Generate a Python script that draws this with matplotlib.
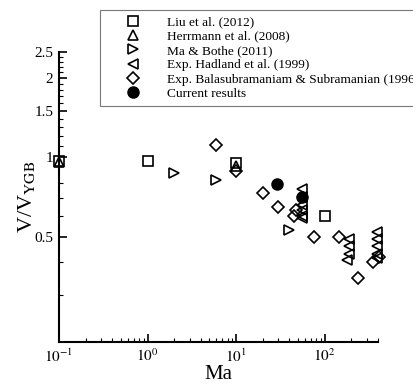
import matplotlib
matplotlib.use("Agg")
import matplotlib.pyplot as plt
from matplotlib.ticker import FixedLocator, NullFormatter, FixedFormatter

plt.rcParams['font.family'] = ['Liberation Serif', 'DejaVu Serif']
plt.rcParams['mathtext.fontset'] = 'stix'

# Data
liu_x = [0.1, 1.0, 10, 100]
liu_y = [0.97, 0.97, 0.95, 0.60]
herr_x = [0.1, 10]
herr_y = [0.96, 0.93]
ma_x = [2, 6, 40]
ma_y = [0.87, 0.82, 0.53]
had_x = [55, 55, 55, 55, 55, 55, 190, 190, 190, 178, 390, 390, 390, 390, 390]
had_y = [0.76, 0.71, 0.66, 0.63, 0.60, 0.59, 0.49, 0.46, 0.43, 0.41, 0.52, 0.49, 0.46, 0.43, 0.415]
bal_x = [6, 10, 20, 30, 45, 48, 75, 147, 240, 350, 407]
bal_y = [1.11, 0.89, 0.73, 0.65, 0.60, 0.63, 0.50, 0.50, 0.35, 0.40, 0.42]
cur_x = [29, 55]
cur_y = [0.79, 0.71]

labels = ["Liu et al. (2012)", "Herrmann et al. (2008)", "Ma & Bothe (2011)",
          "Exp. Hadland et al. (1999)",
          "Exp. Balasubramaniam & Subramanian (1996)", "Current results"]

fig = plt.figure(figsize=(4.14, 3.85), dpi=100)
ax = fig.add_axes([59/414, 1-342/385, (378-59)/414, (342-52)/385])

kw = dict(linestyle='none', mfc='none', mec='black', mew=1.2, color='black', clip_on=False)
ax.plot(liu_x, liu_y, marker='s', ms=6.5, label=labels[0], **kw)
ax.plot(herr_x, herr_y, marker='^', ms=7, label=labels[1], **kw)
ax.plot(ma_x, ma_y, marker='>', ms=7, label=labels[2], **kw)
ax.plot(had_x, had_y, marker='<', ms=7, label=labels[3], **kw)
ax.plot(bal_x, bal_y, marker='D', ms=6.5, label=labels[4], **kw)
ax.plot(cur_x, cur_y, marker='o', ms=8, linestyle='none', color='black', label=labels[5], clip_on=False)

ax.set_xscale('log')
ax.set_yscale('log')
ax.set_xlim(0.1, 400)
ax.set_ylim(0.2, 2.5)

ax.spines['top'].set_visible(False)
ax.spines['right'].set_visible(False)
for s in ('left', 'bottom'):
    ax.spines[s].set_linewidth(1.5)

ax.yaxis.set_major_locator(FixedLocator([0.5, 1, 1.5, 2, 2.5]))
ax.yaxis.set_major_formatter(FixedFormatter(['0.5', '1', '1.5', '2', '2.5']))
ax.yaxis.set_minor_locator(FixedLocator([0.3, 0.4, 0.6, 0.7, 0.8, 1.1, 1.2, 1.3, 1.4,
                                         1.6, 1.7, 1.8, 1.9, 2.1, 2.2, 2.3, 2.4]))
ax.yaxis.set_minor_formatter(NullFormatter())

ax.xaxis.set_major_locator(FixedLocator([0.1, 1, 10, 100]))
ax.xaxis.set_major_formatter(FixedFormatter([r'$10^{-1}$', r'$10^{0}$', r'$10^{1}$', r'$10^{2}$']))
ax.xaxis.set_minor_locator(FixedLocator([m * d for d in (0.1, 1, 10, 100) for m in range(2, 10) if m * d <= 400]))
ax.xaxis.set_minor_formatter(NullFormatter())

ax.tick_params(which='major', direction='in', length=6, width=1.2, labelsize=11, pad=4)
ax.tick_params(which='minor', direction='in', length=3, width=0.8)

ax.set_xlabel('Ma', fontsize=15, labelpad=0)
ax.set_ylabel(r'V/V$_{\mathrm{YGB}}$', fontsize=16, labelpad=-2)

leg = fig.legend(loc='upper left', bbox_to_anchor=(100/414, 1 - 10/385),
                 borderaxespad=0, frameon=True, fancybox=False, fontsize=9.6,
                 labelspacing=0.15, handletextpad=0.55, borderpad=0.45,
                 handlelength=4.05, numpoints=1)
leg.get_frame().set_edgecolor('#555555')
leg.get_frame().set_linewidth(0.8)

fig.savefig('out.png', dpi=100)
